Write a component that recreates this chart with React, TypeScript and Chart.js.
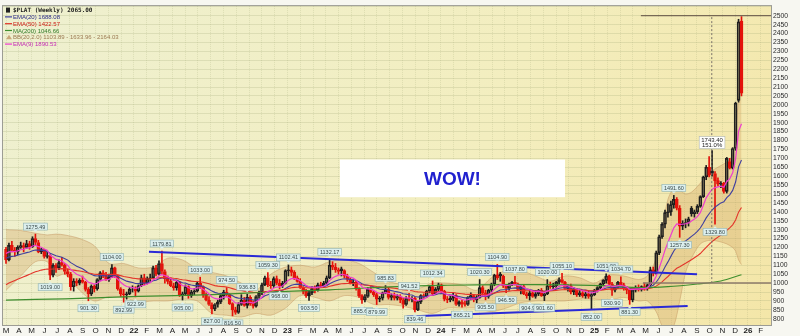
import React, { useEffect, useRef } from 'react';
import { Chart, registerables } from 'chart.js';

Chart.register(...registerables);

// ---------- weekly OHLC (index 0 = first visible week, Mar 2021) ----------
const opens = [
  1190,1130,1212,1185,1175,1200,1210,1200,1222,1205,
  1250,1228,1175,1188,1150,1155,1045,1100,1085,1115,
  1100,1065,1050,980,1012,1000,1015,1005,965,940,
  982,968,1020,1058,1045,1020,1035,1085,1040,968,
  940,935,940,965,965,955,985,1030,1000,1025,
  1030,1085,1050,1110,1065,1025,1010,985,975,1005,
  930,940,980,930,950,955,1000,980,935,905,
  880,855,880,895,930,950,935,885,850,835,
  880,905,875,920,885,870,925,945,990,1030,
  990,985,1025,1000,985,1000,1070,1075,1060,1030,
  1010,975,955,930,945,970,960,990,985,1000,
  1030,1100,1090,1075,1080,1070,1040,1020,1000,1005,
  970,930,905,925,965,950,935,910,915,945,
  965,920,930,915,925,905,880,915,910,915,
  850,895,930,925,955,980,940,965,990,955,
  910,905,915,930,880,895,885,880,920,930,
  905,920,975,945,925,960,995,1045,1050,1040,
  985,970,995,1005,995,965,980,940,930,945,
  925,940,960,930,940,985,980,985,1005,1020,
  1005,970,985,950,965,935,945,930,940,925,
  935,960,975,995,1015,1040,995,960,980,1005,
  990,970,960,905,960,975,965,980,970,990,
  1075,1055,1170,1260,1330,1395,1400,1440,1470,1420,
  1320,1335,1340,1420,1390,1400,1430,1485,1595,1650,
  1630,1615,1575,1555,1560,1515,1682,1645,1755,2025,
  2470
];
const highs = [
  1200,1225,1235,1200,1210,1230,1225,1240,1235,1260,
  1275,1240,1195,1190,1180,1160,1110,1110,1130,1145,
  1110,1080,1060,1025,1025,1025,1040,1010,975,990,
  990,1025,1065,1070,1060,1050,1104,1090,1045,975,
  965,950,975,985,980,990,1045,1050,1035,1050,
  1095,1100,1125,1180,1075,1040,1030,1000,1010,1010,
  950,990,985,960,970,1010,1033,985,945,925,
  890,885,905,935,960,975,940,890,865,890,
  935,920,937,930,900,930,955,1000,1040,1059,
  1010,1035,1040,1020,1010,1075,1102,1090,1070,1040,
  1025,980,965,955,980,985,1000,1005,1010,1040,
  1132,1120,1110,1085,1090,1075,1050,1030,1015,1010,
  975,935,935,975,980,955,945,925,950,986,
  975,940,945,935,935,915,925,942,925,920,
  900,935,940,960,985,1012,975,1000,995,960,
  925,930,945,935,900,905,900,925,945,935,
  930,1020,985,960,965,1000,1050,1105,1060,1045,
  990,1000,1010,1038,1000,985,990,950,960,960,
  950,965,970,945,1020,1005,1000,1010,1030,1055,
  1010,990,995,975,970,960,955,950,955,945,
  965,980,1000,1020,1052,1045,1005,985,1010,1035,
  1000,980,965,965,985,990,985,1000,995,1090,
  1090,1180,1270,1340,1410,1445,1460,1492,1480,1435,
  1350,1360,1370,1430,1410,1440,1490,1600,1660,1710,
  1743,1625,1590,1570,1565,1705,1700,1760,2015,2480,
  2495
];
const lows = [
  1110,1125,1175,1150,1160,1195,1175,1195,1190,1200,
  1210,1170,1165,1140,1140,1019,1035,1060,1075,1095,
  1050,1035,960,955,985,990,1000,955,901,930,
  950,960,1015,1030,1015,1010,1030,1030,960,925,
  893,910,935,950,923,950,980,990,995,1010,
  1025,1040,1045,1050,1000,995,980,960,960,925,
  905,930,915,920,935,950,970,920,900,875,
  827,845,865,885,910,925,880,816,825,830,
  875,870,860,875,860,865,915,935,985,980,
  970,975,990,968,975,995,1040,1040,1020,1005,
  970,940,920,903,935,945,955,975,975,990,
  1025,1075,1060,1050,1040,1030,1010,995,985,960,
  920,886,895,920,945,925,880,895,905,940,
  910,905,905,905,890,860,875,900,895,839,
  845,885,915,920,945,930,935,955,945,900,
  890,895,900,875,870,865,870,875,905,895,
  890,915,930,906,915,950,985,1020,1010,975,
  946,960,985,990,960,940,935,915,905,920,
  915,930,925,902,935,970,960,970,995,1000,
  965,955,940,935,925,925,920,915,915,852,
  930,950,965,985,1000,990,931,950,970,985,
  960,940,881,895,950,955,955,960,960,985,
  1040,1050,1160,1250,1310,1370,1380,1420,1410,1257,
  1300,1310,1320,1375,1370,1390,1425,1480,1580,1595,
  1600,1330,1545,1535,1505,1505,1640,1640,1745,2015,
  2050
];
const closes = [
  1130,1212,1185,1175,1200,1210,1200,1222,1205,1250,
  1228,1175,1188,1150,1155,1045,1100,1085,1115,1100,
  1065,1050,980,1012,1000,1015,1005,965,940,982,
  968,1020,1058,1045,1020,1035,1085,1040,968,940,
  935,940,965,965,955,985,1030,1000,1025,1030,
  1085,1050,1110,1065,1025,1010,985,975,1005,930,
  940,980,930,950,955,1000,980,935,905,880,
  855,880,895,930,950,935,885,850,835,880,
  905,875,920,885,870,925,945,990,1030,990,
  985,1025,1000,985,1000,1070,1075,1060,1030,1010,
  975,955,930,945,970,960,990,985,1000,1030,
  1100,1090,1075,1065,1070,1040,1020,1000,1005,970,
  930,905,925,965,950,935,910,915,945,965,
  920,930,915,925,905,880,915,910,915,850,
  895,930,925,955,980,940,965,990,955,910,
  905,915,930,880,895,885,880,920,930,905,
  920,975,945,925,960,995,1045,1030,1040,985,
  970,995,1005,995,965,980,940,930,945,925,
  940,960,930,940,985,980,985,1005,1020,1005,
  970,985,950,965,935,945,930,940,925,935,
  960,975,995,1015,1040,995,960,980,1005,990,
  970,960,905,960,975,965,980,970,990,1075,
  1055,1170,1260,1330,1395,1400,1440,1470,1420,1320,
  1335,1340,1360,1390,1400,1430,1485,1595,1650,1605,
  1615,1575,1555,1560,1515,1700,1645,1755,2010,2465,
  2065
];

// ---------- indicators ----------
const ema9 = [
  1166,1175,1177,1177,1181,1187,1190,1196,1198,1208,
  1212,1205,1201,1191,1184,1156,1145,1133,1129,1124,
  1112,1099,1076,1063,1050,1043,1036,1021,1005,1000,
  994,999,1011,1018,1018,1021,1034,1035,1022,1005,
  991,981,978,975,971,974,985,988,995,1002,
  1019,1025,1042,1047,1042,1036,1026,1016,1014,997,
  986,985,974,969,966,973,974,966,954,939,
  922,914,910,914,921,924,916,903,889,887,
  891,888,894,892,888,895,905,922,944,953,
  959,973,978,979,984,1001,1016,1025,1026,1022,
  1013,1001,987,979,977,973,977,978,983,992,
  1014,1029,1038,1044,1049,1047,1042,1033,1028,1016,
  999,980,969,968,965,959,949,942,943,947,
  942,939,935,933,927,918,917,916,916,902,
  901,907,910,919,931,933,939,950,951,943,
  935,931,931,921,916,909,904,907,911,910,
  912,925,929,928,934,947,966,979,991,990,
  986,988,991,992,987,985,976,967,963,955,
  952,954,949,947,955,960,965,973,982,987,
  984,984,977,975,967,963,956,953,947,945,
  948,953,962,972,986,988,982,982,986,987,
  984,979,964,963,966,966,969,969,973,994,
  1006,1039,1083,1132,1185,1228,1270,1310,1332,1330,
  1331,1333,1338,1348,1359,1373,1395,1435,1478,1504,
  1526,1536,1540,1544,1538,1570,1585,1619,1697,1851,
  1894
];
const ema20 = [
  1139,1146,1150,1152,1157,1162,1166,1171,1174,1181,
  1186,1185,1185,1182,1179,1167,1160,1153,1149,1145,
  1137,1129,1115,1105,1095,1088,1080,1069,1057,1050,
  1042,1040,1042,1042,1040,1040,1044,1044,1037,1027,
  1019,1011,1007,1003,998,997,1000,1000,1002,1005,
  1013,1016,1025,1029,1029,1027,1023,1018,1017,1009,
  1002,1000,993,989,986,987,986,981,974,965,
  955,948,943,942,943,942,937,929,920,916,
  915,911,912,909,905,907,911,918,929,935,
  940,948,953,956,960,970,980,988,992,994,
  992,988,983,979,978,976,978,978,980,985,
  996,1005,1012,1017,1022,1024,1023,1021,1020,1015,
  1007,997,990,988,984,980,973,967,965,965,
  961,958,954,951,947,940,938,935,933,925,
  922,923,923,926,931,932,935,940,942,939,
  936,934,933,928,925,921,917,917,919,917,
  918,923,925,925,928,935,945,953,961,963,
  964,967,971,973,972,973,970,966,964,960,
  958,958,955,954,957,959,961,966,971,974,
  974,975,973,972,968,966,963,961,957,955,
  956,958,961,966,973,975,974,974,977,978,
  977,976,969,968,969,968,969,969,971,981,
  988,1005,1029,1058,1090,1119,1150,1180,1203,1214,
  1226,1237,1249,1262,1275,1290,1309,1336,1366,1389,
  1410,1426,1438,1450,1456,1479,1495,1520,1567,1652,
  1691
];
const ema50 = [
  991,1000,1007,1014,1021,1028,1035,1042,1049,1057,
  1064,1068,1073,1076,1079,1078,1079,1079,1080,1081,
  1080,1079,1075,1073,1070,1068,1065,1061,1057,1054,
  1050,1049,1050,1050,1048,1048,1049,1049,1046,1042,
  1037,1034,1031,1028,1026,1024,1024,1023,1023,1024,
  1026,1027,1030,1032,1031,1031,1029,1027,1026,1022,
  1019,1017,1014,1011,1009,1009,1008,1005,1001,996,
  991,986,983,981,980,978,974,969,964,961,
  959,955,954,951,948,947,947,949,952,953,
  955,957,959,960,962,966,970,974,976,977,
  977,976,974,973,973,973,973,974,975,977,
  982,986,990,993,996,997,998,998,999,997,
  995,991,989,988,986,984,981,979,977,977,
  975,973,971,969,966,963,961,959,957,953,
  951,950,949,949,950,950,951,952,952,950,
  949,947,947,944,942,940,938,937,937,936,
  935,937,937,937,938,940,944,947,951,952,
  953,955,957,958,958,959,958,957,957,956,
  955,955,954,954,955,956,957,959,961,963,
  963,964,963,963,962,962,960,960,958,957,
  957,958,960,962,965,966,966,966,968,969,
  969,968,966,966,966,966,967,967,968,972,
  975,983,994,1007,1022,1037,1053,1069,1083,1092,
  1102,1111,1121,1131,1142,1153,1166,1183,1201,1217,
  1233,1246,1258,1270,1280,1296,1310,1327,1354,1398,
  1424
];
const ma200Weeks = [0, 20, 45, 70, 90, 110, 134, 150, 170, 190, 205, 215, 225, 235, 243, 250];
const ma200Vals = [905, 912, 926, 935, 950, 962, 982, 988, 992, 990, 985, 975, 980, 995, 1012, 1047];

const bbWeeks = [0,5,10,14,17,20,25,30,35,40,45,50,55,60,65,70,75,80,85,90,95,100,105,110,115,120,125,130,135,140,145,150,155,160,165,170,175,180,185,190,195,200,205,210,215,218,221,223,225,227,229,231,233,236,239,242,245,247,248,249,250];
const bbUpper = [1300,1295,1280,1270,1275,1270,1250,1210,1110,1110,1085,1090,1140,1130,1080,1060,1040,1000,960,1050,1090,1100,1090,1120,1130,1110,1060,1010,990,970,1000,1000,990,960,1030,1070,1070,1040,1010,1040,1030,1000,1045,1040,1020,1040,1140,1300,1470,1530,1520,1500,1510,1560,1620,1650,1680,1720,1850,2030,2164];
const bbLower = [960,1040,1120,1120,1040,1050,960,900,925,920,895,900,900,910,900,830,820,810,830,820,860,930,920,900,930,920,880,880,870,850,830,860,860,860,840,860,890,900,900,900,910,910,905,920,900,900,840,760,720,760,900,1060,1140,1220,1240,1235,1220,1200,1180,1130,1104];

// ---------- axis labels ----------
const monthLabels = [
  'M','A','M','J','J','A','S','O','N','D',
  '22','F','M','A','M','J','J','A','S','O','N','D',
  '23','F','M','A','M','J','J','A','S','O','N','D',
  '24','F','M','A','M','J','J','A','S','O','N','D',
  '25','F','M','A','M','J','J','A','S','O','N','D',
  '26','F'
];

// ---------- annotations ----------
const priceLabels = [
  { i: 10, v: 1275, text: '1275.49', above: true },
  { i: 15, v: 1019, text: '1019.00', above: false },
  { i: 28, v: 901, text: '901.30', above: false },
  { i: 36, v: 1104, text: '1104.00', above: true },
  { i: 40, v: 893, text: '892.99', above: false },
  { i: 44, v: 923, text: '922.99', above: false },
  { i: 53, v: 1180, text: '1179.81', above: true },
  { i: 60, v: 905, text: '905.00', above: false },
  { i: 66, v: 1033, text: '1033.00', above: true },
  { i: 70, v: 827, text: '827.00', above: false },
  { i: 75, v: 975, text: '974.50', above: true },
  { i: 77, v: 816, text: '816.50', above: false },
  { i: 82, v: 937, text: '936.83', above: true },
  { i: 89, v: 1059, text: '1059.30', above: true },
  { i: 93, v: 968, text: '968.00', above: false },
  { i: 96, v: 1102, text: '1102.41', above: true },
  { i: 103, v: 903, text: '903.50', above: false },
  { i: 110, v: 1132, text: '1132.17', above: true },
  { i: 121, v: 886, text: '885.69', above: false },
  { i: 126, v: 880, text: '879.99', above: false },
  { i: 129, v: 986, text: '985.83', above: true },
  { i: 137, v: 942, text: '941.52', above: true },
  { i: 139, v: 839, text: '839.46', above: false },
  { i: 145, v: 1012, text: '1012.34', above: true },
  { i: 155, v: 865, text: '865.21', above: false },
  { i: 161, v: 1020, text: '1020.30', above: true },
  { i: 163, v: 906, text: '905.50', above: false },
  { i: 167, v: 1105, text: '1104.90', above: true },
  { i: 170, v: 946, text: '946.50', above: false },
  { i: 173, v: 1038, text: '1037.80', above: true },
  { i: 178, v: 905, text: '904.90', above: false },
  { i: 183, v: 902, text: '901.60', above: false },
  { i: 184, v: 1020, text: '1020.00', above: true },
  { i: 189, v: 1055, text: '1055.10', above: true },
  { i: 199, v: 852, text: '852.00', above: false },
  { i: 204, v: 1052, text: '1051.90', above: true },
  { i: 206, v: 931, text: '930.90', above: false },
  { i: 209, v: 1035, text: '1034.70', above: true },
  { i: 212, v: 881, text: '881.30', above: false },
  { i: 227, v: 1492, text: '1491.60', above: true },
  { i: 229, v: 1257, text: '1257.30', above: false },
  { i: 241, v: 1330, text: '1329.80', above: false },
];
const peakLabel = { i: 240, v: 1743, lines: ['1743.40', '151.0%'] };

const upperTrend = [{ x: 48.6, y: 1176 }, { x: 234.9, y: 1049 }];
const lowerTrend = [{ x: 136.2, y: 813 }, { x: 231.7, y: 872 }];
const level1000 = [{ x: 216.5, y: 1000 }, { x: 262, y: 1000 }];
const level2500 = [{ x: 215.8, y: 2500 }, { x: 262, y: 2500 }];
const measureLine = [{ x: 239.9, y: 1000 }, { x: 239.9, y: 2500 }];
const wowBox = { x0: 113.5, x1: 190, yTop: 1693, yBottom: 1482, text: 'WOW!' };

const legendRows = [
  { text: '$PLAT (Weekly) 2065.00', color: '#1c1c1c', mark: 'icon', markColor: '#222' },
  { text: 'EMA(20) 1688.08', color: '#2b2b88', mark: 'line', markColor: '#3f3f9f' },
  { text: 'EMA(50) 1422.57', color: '#cc1a12', mark: 'line', markColor: '#e3342a' },
  { text: 'MA(200) 1046.66', color: '#2f7a26', mark: 'line', markColor: '#3e8e2e' },
  { text: 'BB(20,2.0) 1103.89 - 1633.96 - 2164.03', color: '#9b7a52', mark: 'tri', markColor: '#c9a77a' },
  { text: 'EMA(9) 1890.53', color: '#c52bb5', mark: 'line', markColor: '#ee3ccf' },
];

const WEEKS_PER_MONTH = 52.18 / 12;
const RED = '#e3120b';
const BLACK = '#1e1e1e';
const GRID = 'rgba(150,160,110,0.22)';

function candleColor(i: number): string {
  const prev = i > 0 ? closes[i - 1] : opens[i];
  return closes[i] < prev ? RED : BLACK;
}

const bgPlugin = {
  id: 'bgPlugin',
  beforeDraw(chart: any) {
    const { ctx, chartArea: a } = chart;
    ctx.save();
    ctx.fillStyle = '#f7f7f1';
    ctx.fillRect(0, 0, chart.width, chart.height);
    const g = ctx.createLinearGradient(a.left, a.top, a.right, a.bottom);
    g.addColorStop(0, '#eef0d0');
    g.addColorStop(0.6, '#f3eebf');
    g.addColorStop(1, '#f4e6a8');
    ctx.fillStyle = g;
    ctx.fillRect(a.left, a.top, a.right - a.left, a.bottom - a.top);
    ctx.restore();
  },
};

const annPlugin = {
  id: 'annPlugin',
  afterDatasetsDraw(chart: any) {
    const { ctx, chartArea: a } = chart;
    const xs = chart.scales.x;
    const ys = chart.scales.y;
    ctx.save();
    ctx.beginPath();
    ctx.rect(a.left, a.top, a.right - a.left, a.bottom - a.top);
    ctx.clip();

    // price labels
    ctx.font = '5.5px "Liberation Sans", sans-serif';
    ctx.textAlign = 'center';
    ctx.textBaseline = 'middle';
    for (const l of priceLabels) {
      const px = xs.getPixelForValue(l.i);
      const py = ys.getPixelForValue(l.v);
      const w = ctx.measureText(l.text).width + 4;
      const h = 7;
      const cy = l.above ? py - 3 - h / 2 - 1 : py + 3 + h / 2 + 1;
      ctx.fillStyle = '#dcefee';
      ctx.strokeStyle = '#8fb1b1';
      ctx.lineWidth = 0.6;
      ctx.fillRect(px - w / 2, cy - h / 2, w, h);
      ctx.strokeRect(px - w / 2, cy - h / 2, w, h);
      ctx.beginPath();
      if (l.above) {
        ctx.moveTo(px - 2, cy + h / 2);
        ctx.lineTo(px + 2, cy + h / 2);
        ctx.lineTo(px, cy + h / 2 + 2);
      } else {
        ctx.moveTo(px - 2, cy - h / 2);
        ctx.lineTo(px + 2, cy - h / 2);
        ctx.lineTo(px, cy - h / 2 - 2);
      }
      ctx.closePath();
      ctx.fillStyle = '#dcefee';
      ctx.fill();
      ctx.fillStyle = '#3a4a4a';
      ctx.fillText(l.text, px, cy + 0.5);
    }

    // peak label with percentage
    {
      const px = xs.getPixelForValue(peakLabel.i);
      const py = ys.getPixelForValue(peakLabel.v);
      ctx.font = '6px "Liberation Sans", sans-serif';
      const w = Math.max(...peakLabel.lines.map((t) => ctx.measureText(t).width)) + 4;
      const h = 12;
      const top = py - 2 - h;
      ctx.fillStyle = '#ffffff';
      ctx.strokeStyle = '#b0b8b8';
      ctx.lineWidth = 0.6;
      ctx.fillRect(px - w / 2, top, w, h);
      ctx.strokeRect(px - w / 2, top, w, h);
      ctx.fillStyle = '#222';
      ctx.fillText(peakLabel.lines[0], px, top + 3.2);
      ctx.fillText(peakLabel.lines[1], px, top + 9);
    }

    // WOW box
    {
      const x0 = xs.getPixelForValue(wowBox.x0);
      const x1 = xs.getPixelForValue(wowBox.x1);
      const y0 = ys.getPixelForValue(wowBox.yTop);
      const y1 = ys.getPixelForValue(wowBox.yBottom);
      ctx.fillStyle = '#ffffff';
      ctx.fillRect(x0, y0, x1 - x0, y1 - y0);
      ctx.font = 'bold 19px "Liberation Sans", Arial, sans-serif';
      ctx.fillStyle = '#2121cf';
      ctx.textAlign = 'center';
      ctx.textBaseline = 'middle';
      ctx.fillText(wowBox.text, (x0 + x1) / 2, (y0 + y1) / 2 + 1);
    }
    ctx.restore();

    // legend
    ctx.save();
    ctx.textAlign = 'left';
    ctx.textBaseline = 'middle';
    legendRows.forEach((r, k) => {
      const y = a.top + 4 + k * 6.8;
      if (r.mark === 'icon') {
        ctx.fillStyle = r.markColor;
        ctx.fillRect(a.left + 3, y - 2.5, 4, 5);
        ctx.font = 'bold 6px "DejaVu Sans Mono", monospace';
      } else if (r.mark === 'tri') {
        ctx.fillStyle = r.markColor;
        ctx.beginPath();
        ctx.moveTo(a.left + 3, y + 2);
        ctx.lineTo(a.left + 6, y - 2.5);
        ctx.lineTo(a.left + 9, y + 2);
        ctx.closePath();
        ctx.fill();
        ctx.font = '6px "Liberation Sans", sans-serif';
      } else {
        ctx.strokeStyle = r.markColor;
        ctx.lineWidth = 1.2;
        ctx.beginPath();
        ctx.moveTo(a.left + 2, y);
        ctx.lineTo(a.left + 9, y);
        ctx.stroke();
        ctx.font = '6px "Liberation Sans", sans-serif';
      }
      ctx.fillStyle = r.color;
      ctx.fillText(r.text, a.left + 10, y + 0.5);
    });
    // plot frame
    ctx.strokeStyle = '#9c9c94';
    ctx.lineWidth = 1;
    ctx.strokeRect(a.left - 0.5, a.top - 0.5, a.right - a.left + 1, a.bottom - a.top + 1);
    ctx.restore();
  },
};

export default function App() {
  const ref = useRef<HTMLCanvasElement | null>(null);

  useEffect(() => {
    document.body.style.margin = '0';
    const canvas = ref.current;
    if (!canvas) return;

    const pts = (arr: number[]) => arr.map((v, i) => ({ x: i, y: v }));
    const pairPts = (xsArr: number[], ysArr: number[]) => xsArr.map((x, k) => ({ x, y: ysArr[k] }));
    const cols = closes.map((_, i) => candleColor(i));
    const fills = closes.map((c, i) => (c < opens[i] ? cols[i] : 'rgba(0,0,0,0)'));
    const wickUp = closes.map((c, i) => ({ x: i, y: [Math.max(opens[i], c), highs[i]] }));
    const wickDn = closes.map((c, i) => ({ x: i, y: [lows[i], Math.min(opens[i], c)] }));
    const bodies = closes.map((c, i) => ({ x: i, y: [Math.min(opens[i], c), Math.max(opens[i], c)] }));

    const line = (data: any[], color: string, width: number, order: number, extra: any = {}) => ({
      type: 'line',
      data,
      borderColor: color,
      borderWidth: width,
      pointRadius: 0,
      tension: 0,
      fill: false,
      order,
      ...extra,
    });

    const chart = new Chart(canvas, {
      type: 'bar',
      data: {
        datasets: [
          line(pairPts(bbWeeks, bbUpper), 'rgba(196,150,100,0.5)', 1, 100, {
            fill: '+1',
            backgroundColor: 'rgba(212,165,100,0.36)',
            tension: 0.3,
          }),
          line(pairPts(bbWeeks, bbLower), 'rgba(196,150,100,0.5)', 1, 100, { tension: 0.3 }),
          line(pairPts(ma200Weeks, ma200Vals), '#3e8e2e', 1.2, 8, { tension: 0.3 }),
          line(pts(ema50), '#e3342a', 1.1, 8),
          line(pts(ema20), '#3f3f9f', 1.1, 8),
          {
            type: 'bar',
            data: wickUp,
            backgroundColor: cols,
            barThickness: 1,
            grouped: false,
            order: 30,
          },
          {
            type: 'bar',
            data: wickDn,
            backgroundColor: cols,
            barThickness: 1,
            grouped: false,
            order: 30,
          },
          {
            type: 'bar',
            data: bodies,
            backgroundColor: fills,
            borderColor: cols,
            borderWidth: 1,
            borderSkipped: false,
            barThickness: 3,
            grouped: false,
            order: 25,
          },
          line(pts(ema9), '#ee3ccf', 1.2, 7),
          line(upperTrend, '#2a2ad6', 2, 2),
          line(lowerTrend, '#2a2ad6', 2, 2),
          line(level1000, '#8c7a6a', 1.5, 3),
          line(level2500, '#5c4c40', 1, 3),
          line(measureLine, '#7a7268', 1, 3, { borderDash: [2, 2] }),
        ] as any,
      },
      options: {
        responsive: false,
        animation: false,
        devicePixelRatio: 1,
        events: [],
        layout: { padding: { left: 3, top: 3, right: 0, bottom: 0 } },
        plugins: {
          legend: { display: false },
          tooltip: { enabled: false },
        },
        scales: {
          x: {
            type: 'linear',
            min: -1.02,
            max: 260.03,
            offset: false,
            afterBuildTicks: (axis: any) => {
              axis.ticks = monthLabels.map((_, k) => ({ value: k * WEEKS_PER_MONTH }));
            },
            afterFit: (axis: any) => {
              axis.height = 11;
            },
            ticks: {
              autoSkip: false,
              maxRotation: 0,
              minRotation: 0,
              padding: 1,
              color: '#1a1a1a',
              font: (c: any) => ({
                size: 8,
                family: 'Liberation Sans',
                weight: /\d/.test(monthLabels[c.index] ?? '') ? 'bold' : 'normal',
              }),
              callback: (_v: any, i: number) => monthLabels[i],
            },
            grid: { color: GRID, drawTicks: false, offset: false },
            border: { display: true, color: '#a0a0a0', dash: [1, 1] },
          },
          y: {
            type: 'linear',
            position: 'right',
            min: 765,
            max: 2554,
            afterFit: (axis: any) => {
              axis.width = 29;
            },
            ticks: {
              stepSize: 50,
              includeBounds: false,
              autoSkip: false,
              padding: 2,
              color: '#2a2a2a',
              font: { size: 6.8, family: 'Liberation Sans' },
              callback: (v: any) => (v >= 800 && v <= 2500 ? String(v) : ''),
            },
            grid: { color: GRID, drawTicks: false },
            border: { display: true, color: '#a0a0a0' },
          },
        },
      } as any,
      plugins: [bgPlugin, annPlugin],
    });

    return () => chart.destroy();
  }, []);

  return (
    <div style={{ width: 800, height: 336 }}>
      <canvas ref={ref} width={800} height={336} style={{ display: 'block' }} />
    </div>
  );
}
